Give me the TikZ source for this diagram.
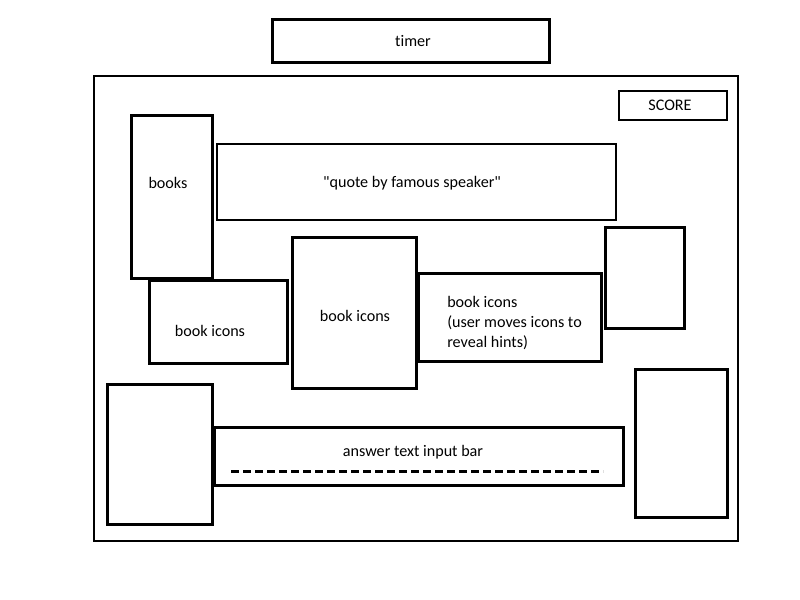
\documentclass[tikz,border=0pt]{standalone}
\usepackage{fontspec}
\newfontfamily\calfont[Ligatures={CommonOff}]{Carlito}
\usetikzlibrary{calc}

\begin{document}
\begin{tikzpicture}[x=0.75pt,y=-0.75pt,
    box/.style={draw,line width=2.25pt,inner sep=0pt,outer sep=0pt},
    thinbox/.style={draw,line width=1.5pt,inner sep=0pt,outer sep=0pt},
    txt/.style={font=\calfont\fontsize{12.1}{15}\selectfont,inner sep=0pt}]
            \useasboundingbox (0,0) rectangle (800,600);
            \node[draw,line width=1.1pt,minimum width=644*0.75pt,minimum height=465*0.75pt] (frame) at (416,308.5) {};
            \foreach \name/\cx/\cy/\w/\h in {timer/410.5/40.5/277/43,books/171.5/196.5/81/163,sidebox/644.5/277.5/79/101,
                iconsA/218/321.5/138/83,iconsB/354/312.5/124/151,iconsC/509.5/317/183/88,
                leftbox/159.5/454/105/140,answer/418.5/456/409/58,rightbox/681/443/92/148}{
                \node[box,minimum width=\w*0.75pt,minimum height=\h*0.75pt] (\name) at (\cx,\cy) {};
            }
            \foreach \name/\cx/\cy/\w/\h in {score/673/105.5/108/29,quote/416.5/182/399/76}{
                \node[thinbox,minimum width=\w*0.75pt,minimum height=\h*0.75pt] (\name) at (\cx,\cy) {};
            }
            \node[txt] (timertext) at (413,41) {timer};
            \node[txt] (scoretext) at (670,105) {SCORE};
            \node[txt] (bookstext) at (168,183) {books};
            \node[txt] (quotetext) at (412,183) {"quote by famous speaker"};
            \node[txt] (iconsAtext) at (210,331) {book icons};
            \node[txt] (iconsBtext) at (355,316) {book icons};
            \node[txt,anchor=west,align=left] (iconsCtext) at (447,323) {book icons\\(user moves icons to\\reveal hints)};
            \node[txt] (answertext) at (413,452) {answer text input bar};
            \draw[line width=2.25pt,dash pattern=on 6pt off 3pt] (231,471)--(603,471);
        \end{tikzpicture}
\end{document}
